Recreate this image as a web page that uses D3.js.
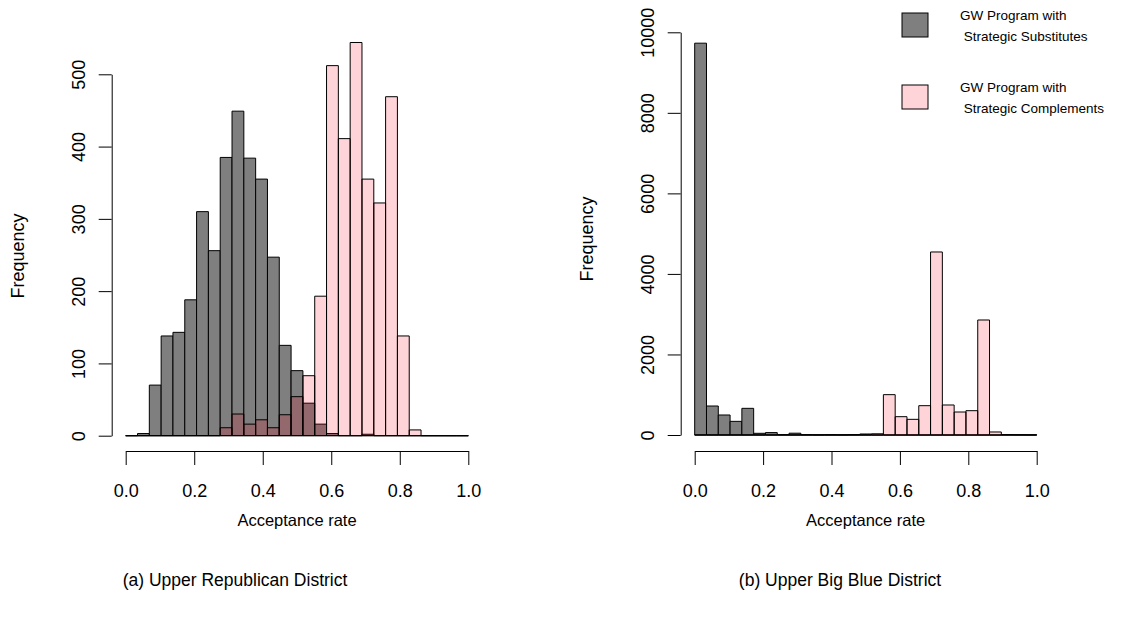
<!DOCTYPE html>
<html>
<head>
<meta charset="utf-8" />
<title>Acceptance rate histograms</title>
<style>
    body { margin: 0; background: #fff; }
    svg text { font-family: "Liberation Sans", Arial, sans-serif; fill: #000; }
</style>
</head>
<body>
<div id="container"></div>
<script src="https://cdn.jsdelivr.net/npm/d3@7"></script>
<script>
    // 29 equal bins on [0, 1]
    const breaks = d3.range(30).map(i => i / 29)

    // (a) Upper Republican District
    const repSubst = [0, 3, 70, 138, 143, 188, 310, 256, 385, 449, 384, 355, 247, 125, 90, 45, 16, 3, 0, 0, 2, 0, 0, 0, 0, 0, 0, 0, 0]
    const repCompl = [0, 0, 0, 0, 0, 0, 0, 0, 11, 30, 16, 22, 11, 29, 54, 83, 193, 512, 411, 544, 355, 322, 469, 138, 8, 0, 0, 0, 0]
    const repTicks = [0, 100, 200, 300, 400, 500]

    // (b) Upper Big Blue District
    const bbSubst = [9730, 720, 497, 339, 662, 42, 60, 10, 45, 8, 5, 8, 5, 10, 25, 0, 0, 0, 0, 0, 0, 0, 0, 0, 0, 0, 0, 0, 0]
    const bbCompl = [0, 0, 0, 0, 0, 0, 0, 0, 0, 0, 0, 0, 0, 0, 0, 30, 1002, 455, 389, 728, 4545, 745, 571, 604, 2856, 75, 12, 8, 5]
    const bbTicks = [0, 2000, 4000, 6000, 8000, 10000]

    const xTicks = [0, 0.2, 0.4, 0.6, 0.8, 1.0]
    const legendLabels = [['GW Program with', ' Strategic Substitutes'], ['GW Program with', ' Strategic Complements']]
    const captions = ['(a) Upper Republican District', '(b) Upper Big Blue District']

    const greyFill = '#7f7f7f'
    const pinkFill = 'rgba(255, 0, 22, 0.17)'

    const svg = d3.select('#container').append('svg').attr('width', 1148).attr('height', 624)

    const panels = [
        { x0: 125.7, x1: 468.3, y0: 435.7, y1: 74.3, max: 500, subst: repSubst, compl: repCompl, ticks: repTicks, freqY: 256, cap: captions[0], capX: 235 },
        { x0: 694.7, x1: 1036.7, y0: 435, y1: 32.3, max: 10000, subst: bbSubst, compl: bbCompl, ticks: bbTicks, freqY: 239, cap: captions[1], capX: 840 }
    ]

    function bars(g, xScale, yScale, counts, fill) {
        g.append('g').selectAll('path').data(counts).join('path')
            .attr('d', (d, i) => {
                const a = xScale(breaks[i]), b = xScale(breaks[i + 1])
                return `M${a},${yScale(0)}V${yScale(d)}H${b}V${yScale(0)}Z`
            })
            .attr('fill', fill)
            .attr('stroke', '#000')
            .attr('stroke-width', 1)
    }

    panels.forEach(p => {
        const xScale = d3.scaleLinear().domain([0, 1]).range([p.x0, p.x1])
        const yScale = d3.scaleLinear().domain([0, p.max]).range([p.y0, p.y1])
        const axisX = p.x0 - 14

        bars(svg, xScale, yScale, p.subst, greyFill)
        bars(svg, xScale, yScale, p.compl, pinkFill)

        // x axis, R style: detached below the plot
        const xg = svg.append('g').attr('transform', `translate(0, 451)`)
            .call(d3.axisBottom(xScale).tickValues(xTicks).tickFormat(d3.format('.1f')).tickSize(14).tickSizeOuter(0).tickPadding(19))
        xg.selectAll('text').style('font-size', '18px')
        xg.selectAll('path, line').attr('stroke', '#000')

        // y axis with rotated labels
        const yg = svg.append('g').attr('transform', `translate(${axisX}, 0)`)
            .call(d3.axisLeft(yScale).tickValues(p.ticks).tickFormat(d3.format('d')).tickSize(13).tickSizeOuter(0))
        yg.selectAll('path, line').attr('stroke', '#000')
        yg.selectAll('text')
            .attr('transform', 'rotate(-90)')
            .attr('x', 0).attr('y', -27).attr('dy', 0)
            .style('text-anchor', 'middle')
            .style('font-size', '18px')

        svg.append('text')
            .attr('transform', `translate(${axisX - 88}, ${p.freqY}) rotate(-90)`)
            .style('text-anchor', 'middle').style('font-size', '18px')
            .text('Frequency')

        svg.append('text')
            .attr('x', (p.x0 + p.x1) / 2).attr('y', 526)
            .style('text-anchor', 'middle').style('font-size', '16.5px')
            .text('Acceptance rate')

        svg.append('text')
            .attr('x', p.capX).attr('y', 586)
            .style('text-anchor', 'middle').style('font-size', '17.5px')
            .text(p.cap)
    })

    // legend
    const legend = svg.append('g').attr('transform', 'translate(902, 13)')
    const legendFills = [greyFill, pinkFill]
    legendLabels.forEach((lines, i) => {
        const item = legend.append('g').attr('transform', `translate(0, ${i * 72})`)
        item.append('rect').attr('width', 26).attr('height', 24)
            .attr('fill', legendFills[i]).attr('stroke', '#000').attr('stroke-width', 1)
        lines.forEach((t, j) => {
            item.append('text')
                .attr('x', 58).attr('y', 7 + j * 21)
                .style('font-size', '13.5px').style('white-space', 'pre')
                .text(t)
        })
    })
</script>
</body>
</html>
